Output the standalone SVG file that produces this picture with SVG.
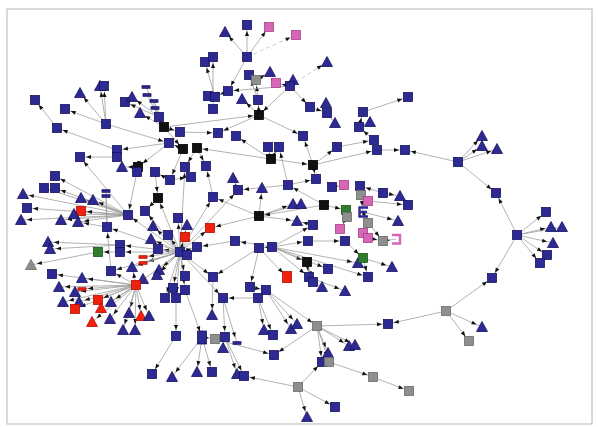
<svg xmlns="http://www.w3.org/2000/svg" xmlns:xlink="http://www.w3.org/1999/xlink" width="598" height="427" viewBox="0 0 598 427">
<style>
.e line{stroke:#9a9a9a;stroke-width:.75;marker-end:url(#a)}
.e line.nm{marker-end:none}
.e line.ds{stroke-dasharray:4 3;stroke:#bbb}
.b{fill:#2e2a94;stroke:#17135e;stroke-width:.8}
.k{fill:#111;stroke:#000;stroke-width:.8}
.p{fill:#d866b6;stroke:#a24289;stroke-width:.8}
.g{fill:#8f8f8f;stroke:#6a6a6a;stroke-width:.8}
.r{fill:#f0220f;stroke:#b31000;stroke-width:.8}
.gr{fill:#2f7d2c;stroke:#1a5518;stroke-width:.8}
</style>
<defs>
<marker id="a" markerUnits="userSpaceOnUse" markerWidth="6" markerHeight="6" refX="11" refY="0" orient="auto" overflow="visible"><path d="M0,-2 L5,0 L0,2 Z" fill="#111"/></marker>
<rect id="s" x="-4.5" y="-4.5" width="9" height="9"/>
<path id="t" d="M0,-5.5 L5.5,4.5 L-5.5,4.5 Z"/>
<rect id="d" x="-4" y="-1.3" width="8" height="2.6"/>
</defs>
<rect x="7" y="9" width="585" height="415" fill="none" stroke="#b5b5b5" stroke-width="1"/>
<g id="edges" class="e">
<line x1="57" y1="128" x2="35" y2="100"/>
<line x1="106" y1="124" x2="65" y2="109"/>
<line x1="106" y1="124" x2="80" y2="93"/>
<line x1="106" y1="124" x2="100" y2="86"/>
<line x1="106" y1="124" x2="104" y2="86"/>
<line x1="117" y1="150" x2="57" y2="128"/>
<line x1="106" y1="124" x2="169" y2="143"/>
<line x1="159" y1="117" x2="125" y2="102"/>
<line x1="159" y1="117" x2="132" y2="97"/>
<line x1="164" y1="127" x2="140" y2="113"/>
<line x1="164" y1="127" x2="159" y2="117"/>
<line x1="164" y1="127" x2="180" y2="132"/>
<line x1="180" y1="132" x2="218" y2="133"/>
<line x1="164" y1="127" x2="183" y2="149"/>
<line x1="164" y1="127" x2="259" y2="115"/>
<line class="nm" x1="164" y1="127" x2="146" y2="87"/>
<line class="nm" x1="164" y1="127" x2="147" y2="95"/>
<line class="nm" x1="164" y1="127" x2="154" y2="101"/>
<line class="nm" x1="164" y1="127" x2="155" y2="108"/>
<line x1="169" y1="143" x2="117" y2="150"/>
<line x1="117" y1="157" x2="80" y2="157"/>
<line x1="169" y1="143" x2="138" y2="167"/>
<line x1="247" y1="57" x2="225" y2="32"/>
<line x1="247" y1="57" x2="247" y2="25"/>
<line x1="247" y1="57" x2="269" y2="27"/>
<line class="ds" x1="247" y1="57" x2="296" y2="35"/>
<line x1="247" y1="57" x2="228" y2="91"/>
<line x1="228" y1="91" x2="208" y2="96"/>
<line x1="228" y1="91" x2="215" y2="97"/>
<line x1="215" y1="97" x2="205" y2="62"/>
<line x1="213" y1="109" x2="213" y2="57"/>
<line x1="259" y1="115" x2="258" y2="100"/>
<line x1="259" y1="115" x2="242" y2="99"/>
<line x1="258" y1="100" x2="249" y2="75"/>
<line x1="258" y1="100" x2="256" y2="80"/>
<line x1="256" y1="80" x2="270" y2="72"/>
<line x1="290" y1="86" x2="228" y2="91"/>
<line x1="290" y1="86" x2="276" y2="83"/>
<line x1="290" y1="86" x2="293" y2="80"/>
<line x1="290" y1="86" x2="259" y2="115"/>
<line class="ds" x1="290" y1="86" x2="327" y2="62"/>
<line x1="259" y1="115" x2="303" y2="136"/>
<line x1="259" y1="115" x2="218" y2="133"/>
<line x1="290" y1="86" x2="310" y2="107"/>
<line x1="310" y1="107" x2="327" y2="113"/>
<line x1="327" y1="113" x2="326" y2="103"/>
<line x1="327" y1="113" x2="335" y2="123"/>
<line x1="363" y1="112" x2="408" y2="97"/>
<line x1="359" y1="127" x2="370" y2="122"/>
<line x1="359" y1="127" x2="363" y2="112"/>
<line x1="374" y1="140" x2="359" y2="127"/>
<line x1="337" y1="147" x2="374" y2="140"/>
<line x1="377" y1="150" x2="405" y2="150"/>
<line x1="458" y1="162" x2="405" y2="150"/>
<line x1="458" y1="162" x2="482" y2="136"/>
<line x1="458" y1="162" x2="482" y2="146"/>
<line x1="458" y1="162" x2="497" y2="149"/>
<line x1="458" y1="162" x2="496" y2="193"/>
<line x1="517" y1="235" x2="496" y2="193"/>
<line x1="517" y1="235" x2="546" y2="212"/>
<line x1="517" y1="235" x2="551" y2="227"/>
<line x1="517" y1="235" x2="562" y2="227"/>
<line x1="517" y1="235" x2="553" y2="243"/>
<line x1="517" y1="235" x2="547" y2="255"/>
<line x1="517" y1="235" x2="540" y2="263"/>
<line x1="517" y1="235" x2="492" y2="278"/>
<line x1="446" y1="311" x2="492" y2="278"/>
<line x1="446" y1="311" x2="388" y2="324"/>
<line x1="446" y1="311" x2="482" y2="327"/>
<line x1="446" y1="311" x2="469" y2="341"/>
<line x1="197" y1="148" x2="185" y2="167"/>
<line x1="183" y1="149" x2="169" y2="143"/>
<line x1="183" y1="149" x2="170" y2="180"/>
<line x1="197" y1="148" x2="206" y2="166"/>
<line x1="271" y1="159" x2="268" y2="147"/>
<line x1="271" y1="159" x2="279" y2="147"/>
<line x1="271" y1="159" x2="197" y2="148"/>
<line x1="271" y1="159" x2="236" y2="136"/>
<line x1="313" y1="165" x2="303" y2="136"/>
<line x1="313" y1="165" x2="337" y2="147"/>
<line x1="313" y1="165" x2="316" y2="179"/>
<line x1="271" y1="159" x2="313" y2="165"/>
<line x1="313" y1="165" x2="377" y2="150"/>
<line x1="213" y1="197" x2="206" y2="166"/>
<line x1="238" y1="190" x2="233" y2="178"/>
<line x1="288" y1="185" x2="238" y2="190"/>
<line x1="259" y1="216" x2="262" y2="188"/>
<line x1="288" y1="185" x2="316" y2="179"/>
<line x1="288" y1="185" x2="279" y2="147"/>
<line x1="259" y1="216" x2="297" y2="221"/>
<line x1="259" y1="216" x2="293" y2="204"/>
<line x1="259" y1="216" x2="301" y2="204"/>
<line x1="259" y1="216" x2="213" y2="197"/>
<line x1="259" y1="216" x2="210" y2="228"/>
<line x1="324" y1="205" x2="259" y2="216"/>
<line x1="324" y1="205" x2="346" y2="210"/>
<line x1="324" y1="205" x2="288" y2="185"/>
<line x1="332" y1="187" x2="344" y2="185"/>
<line x1="361" y1="195" x2="368" y2="201"/>
<line x1="360" y1="186" x2="361" y2="195"/>
<line x1="383" y1="193" x2="400" y2="196"/>
<line x1="368" y1="201" x2="408" y2="205"/>
<line x1="383" y1="193" x2="360" y2="186"/>
<line x1="313" y1="225" x2="297" y2="221"/>
<line x1="272" y1="247" x2="313" y2="225"/>
<line x1="272" y1="247" x2="308" y2="241"/>
<line x1="272" y1="247" x2="235" y2="241"/>
<line x1="272" y1="247" x2="307" y2="262"/>
<line x1="272" y1="247" x2="328" y2="269"/>
<line x1="272" y1="247" x2="309" y2="277"/>
<line x1="259" y1="248" x2="287" y2="277"/>
<line x1="272" y1="247" x2="358" y2="263"/>
<line x1="272" y1="247" x2="368" y2="277"/>
<line x1="259" y1="248" x2="250" y2="287"/>
<line x1="259" y1="248" x2="213" y2="277"/>
<line x1="308" y1="241" x2="345" y2="241"/>
<line x1="345" y1="241" x2="363" y2="258"/>
<line x1="363" y1="258" x2="392" y2="267"/>
<line x1="363" y1="258" x2="368" y2="277"/>
<line x1="347" y1="217" x2="340" y2="229"/>
<line x1="363" y1="233" x2="368" y2="238"/>
<line x1="368" y1="223" x2="383" y2="241"/>
<line x1="383" y1="241" x2="396" y2="239"/>
<line x1="368" y1="238" x2="383" y2="241"/>
<line x1="363" y1="212" x2="398" y2="221"/>
<line x1="363" y1="212" x2="368" y2="223"/>
<line x1="361" y1="195" x2="363" y2="212"/>
<line x1="307" y1="262" x2="309" y2="277"/>
<line x1="307" y1="262" x2="313" y2="282"/>
<line x1="313" y1="282" x2="322" y2="287"/>
<line x1="309" y1="277" x2="345" y2="291"/>
<line x1="235" y1="241" x2="197" y2="247"/>
<line x1="272" y1="247" x2="259" y2="248"/>
<line x1="128" y1="215" x2="23" y2="194"/>
<line x1="128" y1="215" x2="27" y2="208"/>
<line x1="128" y1="215" x2="21" y2="220"/>
<line x1="128" y1="215" x2="81" y2="198"/>
<line x1="128" y1="215" x2="93" y2="200"/>
<line x1="128" y1="215" x2="81" y2="211"/>
<line x1="128" y1="215" x2="74" y2="214"/>
<line x1="128" y1="215" x2="61" y2="220"/>
<line x1="128" y1="215" x2="78" y2="222"/>
<line x1="128" y1="215" x2="55" y2="188"/>
<line x1="128" y1="215" x2="44" y2="188"/>
<line x1="128" y1="215" x2="80" y2="157"/>
<line x1="128" y1="215" x2="55" y2="176"/>
<line x1="138" y1="167" x2="122" y2="167"/>
<line x1="138" y1="167" x2="137" y2="172"/>
<line x1="170" y1="180" x2="155" y2="172"/>
<line x1="158" y1="198" x2="145" y2="211"/>
<line x1="155" y1="172" x2="158" y2="198"/>
<line x1="170" y1="180" x2="191" y2="177"/>
<line x1="138" y1="167" x2="128" y2="215"/>
<line x1="180" y1="252" x2="128" y2="215"/>
<line x1="180" y1="252" x2="178" y2="218"/>
<line x1="180" y1="252" x2="187" y2="225"/>
<line x1="180" y1="252" x2="153" y2="226"/>
<line x1="180" y1="252" x2="151" y2="239"/>
<line x1="180" y1="252" x2="168" y2="235"/>
<line x1="180" y1="252" x2="158" y2="249"/>
<line x1="180" y1="252" x2="185" y2="237"/>
<line x1="180" y1="252" x2="197" y2="247"/>
<line x1="180" y1="252" x2="120" y2="245"/>
<line x1="180" y1="252" x2="120" y2="252"/>
<line x1="180" y1="252" x2="143" y2="257"/>
<line x1="180" y1="252" x2="143" y2="263"/>
<line x1="180" y1="252" x2="132" y2="267"/>
<line x1="180" y1="252" x2="159" y2="270"/>
<line x1="180" y1="252" x2="157" y2="275"/>
<line x1="180" y1="252" x2="185" y2="276"/>
<line x1="180" y1="252" x2="111" y2="271"/>
<line x1="180" y1="252" x2="185" y2="167"/>
<line x1="180" y1="252" x2="158" y2="198"/>
<line x1="180" y1="252" x2="210" y2="228"/>
<line x1="180" y1="252" x2="213" y2="197"/>
<line x1="180" y1="252" x2="238" y2="190"/>
<line x1="180" y1="252" x2="145" y2="211"/>
<line x1="180" y1="252" x2="136" y2="285"/>
<line x1="180" y1="252" x2="173" y2="288"/>
<line x1="180" y1="252" x2="165" y2="298"/>
<line x1="180" y1="252" x2="176" y2="298"/>
<line x1="180" y1="252" x2="185" y2="290"/>
<line x1="180" y1="252" x2="107" y2="227"/>
<line x1="180" y1="252" x2="213" y2="277"/>
<line x1="180" y1="252" x2="223" y2="298"/>
<line x1="120" y1="245" x2="48" y2="242"/>
<line x1="120" y1="245" x2="50" y2="249"/>
<line x1="120" y1="252" x2="98" y2="252"/>
<line x1="98" y1="252" x2="31" y2="265"/>
<line class="nm" x1="107" y1="227" x2="106" y2="191"/>
<line class="nm" x1="107" y1="227" x2="106" y2="196"/>
<line x1="111" y1="271" x2="107" y2="227"/>
<line x1="107" y1="227" x2="78" y2="222"/>
<line x1="136" y1="285" x2="52" y2="274"/>
<line x1="136" y1="285" x2="59" y2="287"/>
<line x1="136" y1="285" x2="75" y2="292"/>
<line x1="136" y1="285" x2="82" y2="289"/>
<line x1="136" y1="285" x2="63" y2="302"/>
<line x1="136" y1="285" x2="79" y2="302"/>
<line x1="136" y1="285" x2="75" y2="309"/>
<line x1="136" y1="285" x2="98" y2="300"/>
<line x1="136" y1="285" x2="101" y2="308"/>
<line x1="136" y1="285" x2="111" y2="302"/>
<line x1="136" y1="285" x2="92" y2="322"/>
<line x1="136" y1="285" x2="110" y2="319"/>
<line x1="136" y1="285" x2="129" y2="313"/>
<line x1="136" y1="285" x2="141" y2="316"/>
<line x1="136" y1="285" x2="149" y2="316"/>
<line x1="136" y1="285" x2="123" y2="330"/>
<line x1="136" y1="285" x2="135" y2="330"/>
<line x1="136" y1="285" x2="82" y2="278"/>
<line x1="136" y1="285" x2="143" y2="279"/>
<line x1="136" y1="285" x2="132" y2="267"/>
<line x1="136" y1="285" x2="111" y2="271"/>
<line x1="185" y1="290" x2="202" y2="337"/>
<line x1="176" y1="298" x2="176" y2="336"/>
<line x1="176" y1="336" x2="152" y2="374"/>
<line x1="202" y1="337" x2="172" y2="377"/>
<line x1="202" y1="337" x2="197" y2="372"/>
<line x1="202" y1="337" x2="212" y2="372"/>
<line x1="202" y1="337" x2="215" y2="339"/>
<line x1="223" y1="298" x2="225" y2="337"/>
<line x1="225" y1="337" x2="223" y2="348"/>
<line x1="225" y1="337" x2="237" y2="374"/>
<line x1="225" y1="337" x2="244" y2="376"/>
<line x1="215" y1="339" x2="274" y2="355"/>
<line x1="213" y1="277" x2="212" y2="315"/>
<line x1="223" y1="298" x2="237" y2="343"/>
<line x1="258" y1="298" x2="223" y2="298"/>
<line x1="258" y1="298" x2="273" y2="335"/>
<line x1="258" y1="298" x2="264" y2="330"/>
<line x1="266" y1="290" x2="291" y2="329"/>
<line x1="266" y1="290" x2="297" y2="324"/>
<line x1="266" y1="290" x2="317" y2="326"/>
<line x1="250" y1="287" x2="266" y2="290"/>
<line x1="317" y1="326" x2="388" y2="324"/>
<line x1="317" y1="326" x2="349" y2="346"/>
<line x1="317" y1="326" x2="355" y2="345"/>
<line x1="317" y1="326" x2="328" y2="353"/>
<line x1="317" y1="326" x2="322" y2="362"/>
<line x1="317" y1="326" x2="329" y2="362"/>
<line x1="317" y1="326" x2="274" y2="355"/>
<line x1="329" y1="362" x2="373" y2="377"/>
<line x1="373" y1="377" x2="409" y2="391"/>
<line x1="298" y1="387" x2="335" y2="407"/>
<line x1="298" y1="387" x2="307" y2="417"/>
<line x1="298" y1="387" x2="244" y2="376"/>
<line x1="298" y1="387" x2="322" y2="362"/>
</g>
<g id="n1"><use href="#s" x="35" y="100" class="b"/></g>
<g id="n2"><use href="#s" x="65" y="109" class="b"/></g>
<g id="n3"><use href="#s" x="57" y="128" class="b"/></g>
<g id="n4"><use href="#t" x="80" y="93" class="b"/></g>
<g id="n5"><use href="#t" x="100" y="86" class="b"/></g>
<g id="n6"><use href="#s" x="104" y="86" class="b"/></g>
<g id="n7"><use href="#s" x="106" y="124" class="b"/></g>
<g id="n8"><use href="#s" x="125" y="102" class="b"/></g>
<g id="n9"><use href="#t" x="132" y="97" class="b"/></g>
<g id="n10"><use href="#t" x="140" y="113" class="b"/></g>
<g id="n11"><use href="#s" x="159" y="117" class="b"/></g>
<g id="n12"><use href="#s" x="164" y="127" class="k"/></g>
<g id="n13"><use href="#s" x="180" y="132" class="b"/></g>
<g id="n14"><use href="#s" x="169" y="143" class="b"/></g>
<g id="d1"><use href="#d" x="146" y="87" class="b"/></g>
<g id="d2"><use href="#d" x="147" y="95" class="b"/></g>
<g id="d3"><use href="#d" x="154" y="101" class="b"/></g>
<g id="d4"><use href="#d" x="155" y="108" class="b"/></g>
<g id="n15"><use href="#t" x="225" y="32" class="b"/></g>
<g id="n16"><use href="#s" x="247" y="25" class="b"/></g>
<g id="n17"><use href="#s" x="269" y="27" class="p"/></g>
<g id="n18"><use href="#s" x="296" y="35" class="p"/></g>
<g id="n19"><use href="#s" x="247" y="57" class="b"/></g>
<g id="n20"><use href="#s" x="205" y="62" class="b"/></g>
<g id="n21"><use href="#s" x="213" y="57" class="b"/></g>
<g id="n22"><use href="#t" x="327" y="62" class="b"/></g>
<g id="n23"><use href="#s" x="249" y="75" class="b"/></g>
<g id="n24"><use href="#s" x="256" y="80" class="g"/></g>
<g id="n25"><use href="#t" x="270" y="72" class="b"/></g>
<g id="n26"><use href="#s" x="276" y="83" class="p"/></g>
<g id="n28"><use href="#t" x="293" y="80" class="b"/></g>
<g id="n27"><use href="#s" x="290" y="86" class="b"/></g>
<g id="n29"><use href="#s" x="228" y="91" class="b"/></g>
<g id="n30"><use href="#s" x="208" y="96" class="b"/></g>
<g id="n31"><use href="#s" x="215" y="97" class="b"/></g>
<g id="n32"><use href="#t" x="242" y="99" class="b"/></g>
<g id="n33"><use href="#s" x="258" y="100" class="b"/></g>
<g id="n34"><use href="#s" x="213" y="109" class="b"/></g>
<g id="n35"><use href="#s" x="259" y="115" class="k"/></g>
<g id="n36"><use href="#s" x="310" y="107" class="b"/></g>
<g id="n37"><use href="#t" x="326" y="103" class="b"/></g>
<g id="n38"><use href="#s" x="327" y="113" class="b"/></g>
<g id="n39"><use href="#t" x="335" y="123" class="b"/></g>
<g id="n40"><use href="#s" x="363" y="112" class="b"/></g>
<g id="n41"><use href="#t" x="370" y="122" class="b"/></g>
<g id="n42"><use href="#s" x="359" y="127" class="b"/></g>
<g id="n43"><use href="#s" x="374" y="140" class="b"/></g>
<g id="n44"><use href="#s" x="377" y="150" class="b"/></g>
<g id="n45"><use href="#s" x="408" y="97" class="b"/></g>
<g id="n46"><use href="#t" x="482" y="136" class="b"/></g>
<g id="n47"><use href="#t" x="482" y="146" class="b"/></g>
<g id="n48"><use href="#t" x="497" y="149" class="b"/></g>
<g id="n49"><use href="#s" x="405" y="150" class="b"/></g>
<g id="n50"><use href="#s" x="458" y="162" class="b"/></g>
<g id="n51"><use href="#s" x="496" y="193" class="b"/></g>
<g id="n52"><use href="#s" x="517" y="235" class="b"/></g>
<g id="n53"><use href="#s" x="546" y="212" class="b"/></g>
<g id="n54"><use href="#t" x="551" y="227" class="b"/></g>
<g id="n55"><use href="#t" x="562" y="227" class="b"/></g>
<g id="n56"><use href="#t" x="553" y="243" class="b"/></g>
<g id="n57"><use href="#s" x="547" y="255" class="b"/></g>
<g id="n58"><use href="#s" x="540" y="263" class="b"/></g>
<g id="n59"><use href="#s" x="492" y="278" class="b"/></g>
<g id="n60"><use href="#s" x="446" y="311" class="g"/></g>
<g id="n61"><use href="#s" x="388" y="324" class="b"/></g>
<g id="n62"><use href="#t" x="482" y="327" class="b"/></g>
<g id="n63"><use href="#s" x="469" y="341" class="g"/></g>
<g id="n64"><use href="#s" x="409" y="391" class="g"/></g>
<g id="n65"><use href="#s" x="218" y="133" class="b"/></g>
<g id="n66"><use href="#s" x="236" y="136" class="b"/></g>
<g id="n67"><use href="#s" x="303" y="136" class="b"/></g>
<g id="n68"><use href="#s" x="183" y="149" class="k"/></g>
<g id="n69"><use href="#s" x="197" y="148" class="k"/></g>
<g id="n70"><use href="#s" x="268" y="147" class="b"/></g>
<g id="n71"><use href="#s" x="279" y="147" class="b"/></g>
<g id="n72"><use href="#s" x="337" y="147" class="b"/></g>
<g id="n73"><use href="#s" x="271" y="159" class="k"/></g>
<g id="n74"><use href="#s" x="313" y="165" class="k"/></g>
<g id="n75"><use href="#s" x="206" y="166" class="b"/></g>
<g id="n76"><use href="#t" x="233" y="178" class="b"/></g>
<g id="n77"><use href="#s" x="238" y="190" class="b"/></g>
<g id="n78"><use href="#t" x="262" y="188" class="b"/></g>
<g id="n79"><use href="#s" x="288" y="185" class="b"/></g>
<g id="n80"><use href="#s" x="316" y="179" class="b"/></g>
<g id="n81"><use href="#s" x="332" y="187" class="b"/></g>
<g id="n82"><use href="#s" x="344" y="185" class="p"/></g>
<g id="n83"><use href="#s" x="360" y="186" class="b"/></g>
<g id="n84"><use href="#s" x="361" y="195" class="g"/></g>
<g id="n85"><use href="#s" x="368" y="201" class="p"/></g>
<g id="n86"><use href="#s" x="383" y="193" class="b"/></g>
<g id="n87"><use href="#t" x="400" y="196" class="b"/></g>
<g id="n88"><use href="#s" x="408" y="205" class="b"/></g>
<g id="n89"><use href="#s" x="213" y="197" class="b"/></g>
<g id="n90"><use href="#t" x="293" y="204" class="b"/></g>
<g id="n91"><use href="#t" x="301" y="204" class="b"/></g>
<g id="n92"><use href="#s" x="324" y="205" class="k"/></g>
<g id="n93"><use href="#s" x="346" y="210" class="gr"/></g>
<g id="n94"><use href="#s" x="347" y="217" class="g"/></g>
<g id="n95"><path d="M368,207.5 H359.5 V216.5 H368 M359.5,212 H367" fill="none" stroke="#2e2a94" stroke-width="2.4"/></g>
<g id="n96"><use href="#s" x="259" y="216" class="k"/></g>
<g id="n97"><use href="#t" x="297" y="221" class="b"/></g>
<g id="n98"><use href="#s" x="313" y="225" class="b"/></g>
<g id="n99"><use href="#s" x="368" y="223" class="g"/></g>
<g id="n100"><use href="#t" x="398" y="221" class="b"/></g>
<g id="n101"><use href="#s" x="340" y="229" class="p"/></g>
<g id="n102"><use href="#s" x="363" y="233" class="p"/></g>
<g id="n103"><use href="#s" x="368" y="238" class="p"/></g>
<g id="n104"><use href="#s" x="383" y="241" class="g"/></g>
<g id="n105"><path d="M392,235 H400 V243.5 H392" fill="none" stroke="#d866b6" stroke-width="2.4"/></g>
<g id="n106"><use href="#s" x="235" y="241" class="b"/></g>
<g id="n107"><use href="#s" x="308" y="241" class="b"/></g>
<g id="n108"><use href="#s" x="345" y="241" class="b"/></g>
<g id="n109"><use href="#s" x="259" y="248" class="b"/></g>
<g id="n110"><use href="#s" x="272" y="247" class="b"/></g>
<g id="n111"><use href="#s" x="307" y="262" class="k"/></g>
<g id="n113"><use href="#t" x="358" y="263" class="b"/></g>
<g id="n112"><use href="#s" x="363" y="258" class="gr"/></g>
<g id="n114"><use href="#s" x="328" y="269" class="b"/></g>
<g id="n115"><use href="#t" x="392" y="267" class="b"/></g>
<g id="n116"><rect x="282.5" y="271.5" width="9" height="11" class="r"/></g>
<g id="n117"><use href="#s" x="309" y="277" class="b"/></g>
<g id="n118"><use href="#s" x="313" y="282" class="b"/></g>
<g id="n119"><use href="#s" x="368" y="277" class="b"/></g>
<g id="n120"><use href="#t" x="322" y="287" class="b"/></g>
<g id="n121"><use href="#t" x="345" y="291" class="b"/></g>
<g id="n122"><use href="#s" x="210" y="228" class="r"/></g>
<g id="n123"><use href="#s" x="80" y="157" class="b"/></g>
<g id="n124"><use href="#s" x="117" y="150" class="b"/></g>
<g id="n125"><use href="#s" x="117" y="157" class="b"/></g>
<g id="n126"><use href="#t" x="122" y="167" class="b"/></g>
<g id="n127"><use href="#s" x="138" y="167" class="k"/></g>
<g id="n128"><use href="#s" x="137" y="172" class="b"/></g>
<g id="n129"><use href="#s" x="155" y="172" class="b"/></g>
<g id="n130"><use href="#s" x="170" y="180" class="b"/></g>
<g id="n131"><use href="#s" x="185" y="167" class="b"/></g>
<g id="n132"><use href="#s" x="191" y="177" class="b"/></g>
<g id="n133"><use href="#s" x="55" y="176" class="b"/></g>
<g id="n134"><use href="#s" x="44" y="188" class="b"/></g>
<g id="n135"><use href="#s" x="55" y="188" class="b"/></g>
<g id="n136"><use href="#t" x="23" y="194" class="b"/></g>
<g id="n137"><use href="#s" x="27" y="208" class="b"/></g>
<g id="n138"><use href="#t" x="21" y="220" class="b"/></g>
<g id="n139"><use href="#t" x="81" y="198" class="b"/></g>
<g id="n140"><use href="#t" x="93" y="200" class="b"/></g>
<g id="n141"><use href="#d" x="106" y="191" class="b"/></g>
<g id="n142"><use href="#d" x="106" y="196" class="b"/></g>
<g id="n143"><use href="#s" x="158" y="198" class="k"/></g>
<g id="n144"><use href="#s" x="81" y="211" class="r"/></g>
<g id="n145"><use href="#t" x="74" y="214" class="b"/></g>
<g id="n146"><use href="#t" x="78" y="222" class="b"/></g>
<g id="n147"><use href="#t" x="61" y="220" class="b"/></g>
<g id="n148"><use href="#s" x="128" y="215" class="b"/></g>
<g id="n149"><use href="#s" x="145" y="211" class="b"/></g>
<g id="n150"><use href="#s" x="178" y="218" class="b"/></g>
<g id="n151"><use href="#t" x="187" y="225" class="b"/></g>
<g id="n152"><use href="#t" x="153" y="226" class="b"/></g>
<g id="n153"><use href="#s" x="107" y="227" class="b"/></g>
<g id="n154"><use href="#s" x="185" y="237" class="r"/></g>
<g id="n155"><use href="#t" x="151" y="239" class="b"/></g>
<g id="n156"><use href="#s" x="168" y="235" class="b"/></g>
<g id="n157"><use href="#t" x="48" y="242" class="b"/></g>
<g id="n158"><use href="#t" x="50" y="249" class="b"/></g>
<g id="n159"><use href="#s" x="120" y="245" class="b"/></g>
<g id="n160"><use href="#s" x="120" y="252" class="b"/></g>
<g id="n161"><use href="#s" x="98" y="252" class="gr"/></g>
<g id="n162"><use href="#s" x="197" y="247" class="b"/></g>
<g id="n163"><use href="#s" x="158" y="249" class="b"/></g>
<g id="n164"><use href="#s" x="180" y="252" class="b"/></g>
<g id="n165"><use href="#s" x="187" y="255" class="b"/></g>
<g id="n166"><use href="#d" x="143" y="257" class="r"/></g>
<g id="n167"><use href="#d" x="143" y="263" class="r"/></g>
<g id="n168"><use href="#t" x="31" y="265" class="g"/></g>
<g id="n170"><use href="#s" x="111" y="271" class="b"/></g>
<g id="n171"><use href="#t" x="132" y="267" class="b"/></g>
<g id="n172"><use href="#t" x="159" y="270" class="b"/></g>
<g id="n173"><use href="#t" x="157" y="275" class="b"/></g>
<g id="n174"><use href="#s" x="185" y="276" class="b"/></g>
<g id="n175"><use href="#s" x="213" y="277" class="b"/></g>
<g id="n177"><use href="#t" x="143" y="279" class="b"/></g>
<g id="n176"><use href="#s" x="136" y="285" class="r"/></g>
<g id="n178"><use href="#t" x="82" y="278" class="b"/></g>
<g id="n179"><use href="#s" x="52" y="274" class="b"/></g>
<g id="n180"><use href="#t" x="59" y="287" class="b"/></g>
<g id="n181"><use href="#t" x="75" y="292" class="b"/></g>
<g id="n182"><use href="#d" x="82" y="289" class="r"/></g>
<g id="n183"><use href="#t" x="63" y="302" class="b"/></g>
<g id="n184"><use href="#t" x="79" y="302" class="b"/></g>
<g id="n185"><use href="#s" x="75" y="309" class="r"/></g>
<g id="n186"><use href="#s" x="98" y="300" class="r"/></g>
<g id="n187"><use href="#t" x="101" y="308" class="r"/></g>
<g id="n188"><use href="#t" x="111" y="302" class="b"/></g>
<g id="n189"><use href="#t" x="92" y="322" class="r"/></g>
<g id="n190"><use href="#t" x="110" y="319" class="b"/></g>
<g id="n191"><use href="#t" x="129" y="313" class="b"/></g>
<g id="n192"><use href="#t" x="141" y="316" class="r"/></g>
<g id="n193"><use href="#t" x="149" y="316" class="b"/></g>
<g id="n194"><use href="#t" x="123" y="330" class="b"/></g>
<g id="n195"><use href="#t" x="135" y="330" class="b"/></g>
<g id="n196"><use href="#s" x="173" y="288" class="b"/></g>
<g id="n197"><use href="#s" x="165" y="298" class="b"/></g>
<g id="n198"><use href="#s" x="176" y="298" class="b"/></g>
<g id="n199"><use href="#s" x="185" y="290" class="b"/></g>
<g id="n200"><use href="#s" x="176" y="336" class="b"/></g>
<g id="n201"><rect x="197.5" y="331" width="9" height="13" class="b"/></g>
<g id="n202"><use href="#s" x="152" y="374" class="b"/></g>
<g id="n203"><use href="#t" x="172" y="377" class="b"/></g>
<g id="n204"><use href="#t" x="197" y="372" class="b"/></g>
<g id="n205"><use href="#s" x="212" y="372" class="b"/></g>
<g id="n206"><use href="#s" x="215" y="339" class="g"/></g>
<g id="n207"><use href="#s" x="225" y="337" class="b"/></g>
<g id="n208"><use href="#t" x="223" y="348" class="b"/></g>
<g id="n209"><use href="#d" x="237" y="343" class="b"/></g>
<g id="n210"><use href="#s" x="274" y="355" class="b"/></g>
<g id="n211"><use href="#t" x="264" y="330" class="b"/></g>
<g id="n212"><use href="#s" x="273" y="335" class="b"/></g>
<g id="n213"><use href="#t" x="291" y="329" class="b"/></g>
<g id="n214"><use href="#t" x="297" y="324" class="b"/></g>
<g id="n215"><use href="#s" x="317" y="326" class="g"/></g>
<g id="n217"><use href="#t" x="349" y="346" class="b"/></g>
<g id="n218"><use href="#t" x="355" y="345" class="b"/></g>
<g id="n219"><use href="#t" x="328" y="353" class="b"/></g>
<g id="n220"><use href="#s" x="322" y="362" class="b"/></g>
<g id="n221"><use href="#s" x="329" y="362" class="g"/></g>
<g id="n222"><use href="#s" x="373" y="377" class="g"/></g>
<g id="n223"><use href="#t" x="237" y="374" class="b"/></g>
<g id="n224"><use href="#s" x="244" y="376" class="b"/></g>
<g id="n225"><use href="#s" x="298" y="387" class="g"/></g>
<g id="n226"><use href="#s" x="335" y="407" class="b"/></g>
<g id="n227"><use href="#t" x="307" y="417" class="b"/></g>
<g id="n228"><use href="#s" x="250" y="287" class="b"/></g>
<g id="n229"><use href="#s" x="266" y="290" class="b"/></g>
<g id="n230"><use href="#s" x="258" y="298" class="b"/></g>
<g id="n231"><use href="#s" x="223" y="298" class="b"/></g>
<g id="n232"><use href="#t" x="212" y="315" class="b"/></g>
</svg>
